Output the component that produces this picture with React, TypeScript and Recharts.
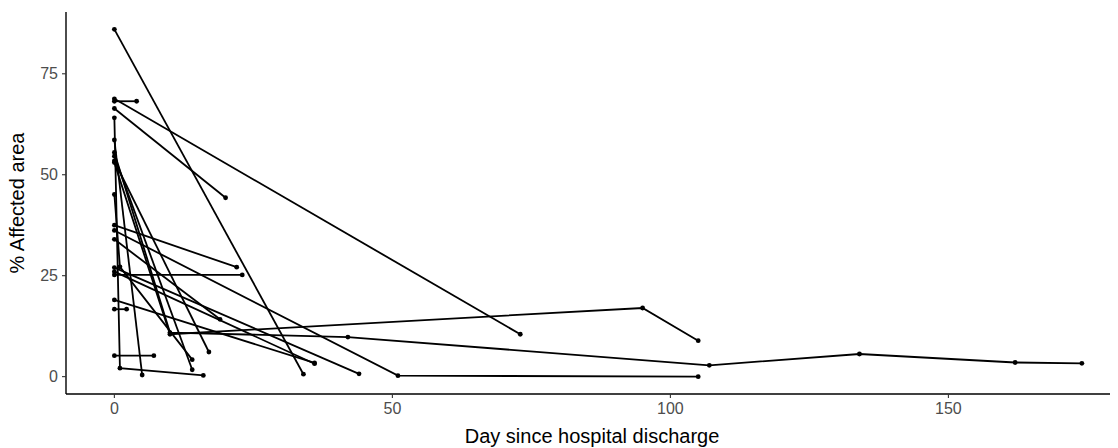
import React from 'react';
import { ScatterChart, Scatter, XAxis, YAxis } from 'recharts';

// days since discharge and % affected area, one row per patient
const patientDays: number[][] = [
  [0, 34],
  [0, 4],
  [0, 73],
  [0, 20],
  [0, 1, 16],
  [0, 5],
  [0, 14],
  [0, 17],
  [0, 10, 95, 105],
  [0, 10, 42, 107, 134, 162, 174],
  [0, 1, 14],
  [0, 22],
  [0, 51, 105],
  [0, 19],
  [0, 44],
  [0, 36],
  [0, 23],
  [0, 36],
  [0, 2.2],
  [0, 7.1]
];

const patientArea: number[][] = [
  [86, 0.6],
  [68.2, 68.2],
  [68.8, 10.5],
  [66.4, 44.3],
  [64.1, 2.1, 0.3],
  [58.6, 0.4],
  [54.6, 1.7],
  [53.4, 6.1],
  [53, 10.5, 17, 8.9],
  [55.5, 10.9, 9.8, 2.8, 5.6, 3.5, 3.3],
  [45.1, 27.2, 4.2],
  [37.5, 27.1],
  [36.2, 0.25, 0],
  [34, 14.2],
  [27, 0.7],
  [26, 3.2],
  [25.2, 25.2],
  [19, 3.4],
  [16.7, 16.7],
  [5.2, 5.2]
];

const DAY_TICKS = [0, 50, 100, 150];
const AREA_TICKS = [0, 25, 50, 75];

const FONT = '"Liberation Sans", Arial, sans-serif';

const series = patientDays.map((days, i) =>
  days.map((d, j) => ({ day: d, area: patientArea[i][j] }))
);

const Dot = (props: any) => <circle cx={props.cx} cy={props.cy} r={2.4} fill="#000" />;

export default function App() {
  return (
    <div style={{ marginLeft: -8, marginTop: -8, width: 1118, height: 448, background: '#fff' }}>
      <ScatterChart width={1118} height={448} margin={{ top: 12, right: 0, bottom: 0, left: 0 }}>
        <XAxis
          type="number"
          dataKey="day"
          domain={[-8.7, 180.5]}
          ticks={DAY_TICKS}
          allowDataOverflow
          height={54}
          tickSize={4}
          tickMargin={5}
          axisLine={{ stroke: '#000', strokeWidth: 1.4 }}
          tickLine={{ stroke: '#333', strokeWidth: 1.1 }}
          tick={{ fill: '#4d4d4d', fontSize: 16, fontFamily: FONT }}
          label={{
            content: () => (
              <text x={592} y={443} textAnchor="middle" fontSize={20} fontFamily={FONT} fill="#000">
                Day since hospital discharge
              </text>
            )
          }}
        />
        <YAxis
          type="number"
          dataKey="area"
          domain={[-4.3, 90.3]}
          ticks={AREA_TICKS}
          allowDataOverflow
          width={66}
          tickSize={4}
          tickMargin={4}
          axisLine={{ stroke: '#000', strokeWidth: 1.4 }}
          tickLine={{ stroke: '#333', strokeWidth: 1.1 }}
          tick={{ fill: '#4d4d4d', fontSize: 16, fontFamily: FONT }}
          label={{
            content: () => (
              <text
                x={24}
                y={203}
                transform="rotate(-90 24 203)"
                textAnchor="middle"
                fontSize={20}
                fontFamily={FONT}
                fill="#000"
              >
                % Affected area
              </text>
            )
          }}
        />
        {series.map((pts, i) => (
          <Scatter
            key={i}
            data={pts}
            line={{ stroke: '#000', strokeWidth: 1.8 }}
            lineType="joint"
            shape={Dot}
            isAnimationActive={false}
          />
        ))}
      </ScatterChart>
    </div>
  );
}
